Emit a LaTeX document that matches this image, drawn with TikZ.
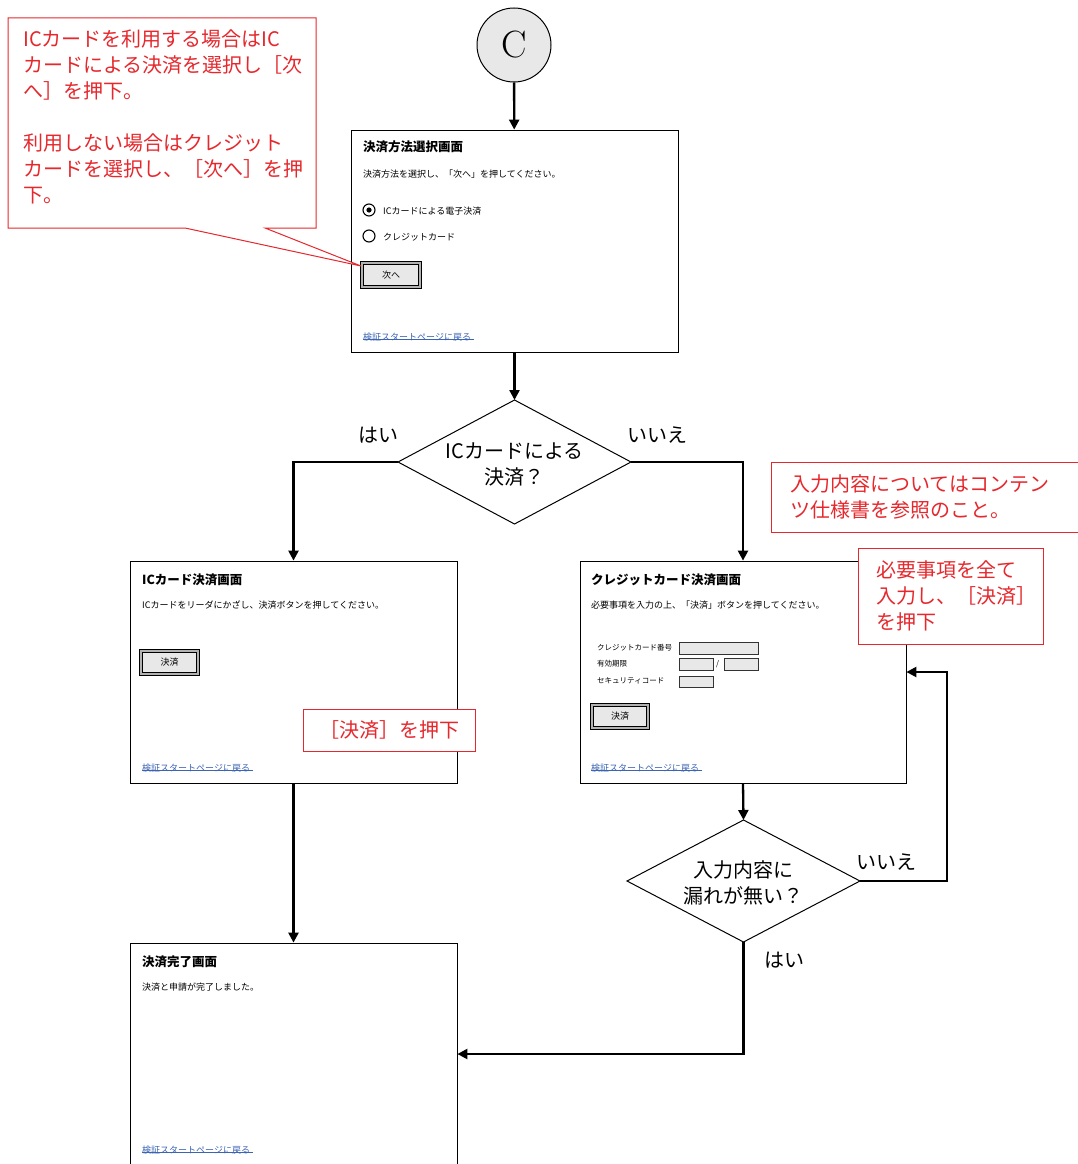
\documentclass[tikz,border=0pt]{standalone}
\usepackage{fontspec}
\setmainfont{Noto Sans CJK JP}
\newfontfamily\lmr{Latin Modern Roman}
\usetikzlibrary{arrows.meta}
\definecolor{nred}{RGB}{230,40,45}
\definecolor{lnkblue}{RGB}{60,100,180}
\definecolor{btngray}{RGB}{232,232,232}
\newcommand\scrtitle{\fontsize{12.5}{14}\selectfont\bfseries}
\newcommand\scrtext{\fontsize{9}{11}\selectfont}
\newcommand\bigtext{\fontsize{20}{26}\selectfont}
\begin{document}
\begin{tikzpicture}[x=1pt,y=-1pt,
  screen/.style={draw, line width=0.8pt, fill=white, inner sep=0pt},
  flow/.style={line width=2.3pt, -{Triangle[length=10pt,width=10pt]}},
  redbox/.style={draw=nred, line width=1pt, fill=white, inner sep=0pt},
  redtext/.style={text=nred, font=\bigtext, align=left, inner sep=0pt},
  plain/.style={font=\bigtext, inner sep=0pt},
  dectext/.style={font=\bigtext, align=center, inner sep=0pt},
  decline/.style={draw, line width=1pt, fill=white, line join=miter},
  stitle/.style={anchor=west, inner sep=0pt, font=\scrtitle},
  stext/.style={anchor=west, inner sep=0pt, font=\scrtext},
  slink/.style={anchor=west, inner sep=0pt, font=\scrtext, text=lnkblue},
  btn/.style={draw=black, line width=0.7pt, double=gray!60, double distance=2.4pt,
    fill=btngray, inner sep=0pt, font=\scrtext},
  field/.style={draw=black!80, line width=0.7pt, fill=btngray, inner sep=0pt},
  radio/.style={circle, draw, line width=1.1pt, minimum size=12pt, inner sep=0pt},
]
\useasboundingbox (0,0) rectangle (1078,1164);

% start connector
\node[circle, draw, line width=1pt, fill=black!9, minimum size=74pt, inner sep=0pt,
  font=\lmr\fontsize{38}{40}\selectfont] (C) at (514,45) {C};

% ---- screen 1: payment method selection
\node[screen, minimum width=327pt, minimum height=222pt] (s1) at (514.5,241) {};
\node[stitle] (s1t) at (363,147) {決済方法選択画面};
\node[stext] (s1b) at (363,174) {決済方法を選択し、「次へ」を押してください。};
\node[radio] (r1) at (369,210) {};
\fill (r1.center) circle (2.6pt);
\node[stext] (r1t) at (383,211) {ICカードによる電子決済};
\node[radio] (r2) at (369,236) {};
\node[stext] (r2t) at (383,237) {クレジットカード};
\node[btn, minimum width=58pt, minimum height=24pt] (b1) at (391,275) {次へ};
\node[slink] (l1) at (363,337) {検証スタートページに戻る};
\draw[lnkblue, line width=1.5pt] ([yshift=2pt]l1.south west) -- ([yshift=2pt,xshift=3pt]l1.south east);

% ---- decision 1 (diamond drawn from its four corners)
\coordinate (d1n) at (514.5,400);
\coordinate (d1e) at (631,462);
\coordinate (d1s) at (514.5,524);
\coordinate (d1w) at (398,462);
\draw[decline] (d1n) -- (d1e) -- (d1s) -- (d1w) -- cycle;
\node[dectext] (d1) at (514.5,465) {ICカードによる\\決済？};
\node[plain] (yes1) at (378,435) {はい};
\node[plain] (no1) at (657,435) {いいえ};

% ---- screen 2: IC card payment
\node[screen, minimum width=327pt, minimum height=222pt] (s2) at (293.5,672) {};
\node[stitle] (s2t) at (142,580) {ICカード決済画面};
\node[stext] (s2b) at (142,605) {ICカードをリーダにかざし、決済ボタンを押してください。};
\node[btn, minimum width=57pt, minimum height=23pt] (b2) at (169.5,662.5) {決済};
\node[slink] (l2) at (142,768) {検証スタートページに戻る};
\draw[lnkblue, line width=1.5pt] ([yshift=2pt]l2.south west) -- ([yshift=2pt,xshift=3pt]l2.south east);

% ---- screen 3: credit card payment
\node[screen, minimum width=326pt, minimum height=222pt] (s3) at (743,672) {};
\node[stitle] (s3t) at (591,580) {クレジットカード決済画面};
\node[stext] (s3b) at (591,605) {必要事項を入力の上、「決済」ボタンを押してください。};
\node[stext, font=\fontsize{7.5}{9}\selectfont] (f1l) at (597,648) {クレジットカード番号};
\node[stext, font=\fontsize{7.5}{9}\selectfont] (f2l) at (597,664) {有効期限};
\node[stext, font=\fontsize{7.5}{9}\selectfont] (f3l) at (597,681) {セキュリティコード};
\node[field, minimum width=79pt, minimum height=12pt, anchor=west] (f1) at (679,648) {};
\node[field, minimum width=34pt, minimum height=12pt, anchor=west] (f2a) at (679,664) {};
\node[stext, font=\fontsize{7.5}{9}\selectfont] (sl) at (716,664) {/};
\node[field, minimum width=34pt, minimum height=12pt, anchor=west] (f2b) at (724,664) {};
\node[field, minimum width=34pt, minimum height=11pt, anchor=west] (f3) at (679,681.5) {};
\node[btn, minimum width=56pt, minimum height=23pt] (b3) at (620,716.5) {決済};
\node[slink] (l3) at (591,768) {検証スタートページに戻る};
\draw[lnkblue, line width=1.5pt] ([yshift=2pt]l3.south west) -- ([yshift=2pt,xshift=3pt]l3.south east);

% ---- decision 2
\coordinate (d2n) at (743.5,820);
\coordinate (d2e) at (860,881);
\coordinate (d2s) at (743.5,942);
\coordinate (d2w) at (627,881);
\draw[decline] (d2n) -- (d2e) -- (d2s) -- (d2w) -- cycle;
\node[dectext] (d2) at (743.5,883) {入力内容に\\漏れが無い？};
\node[plain] (no2) at (886,862) {いいえ};
\node[plain] (yes2) at (784,960) {はい};

% ---- screen 4: completion
\node[screen, minimum width=327pt, minimum height=222pt] (s4) at (293.5,1054) {};
\node[stitle] (s4t) at (142,962) {決済完了画面};
\node[stext] (s4b) at (142,987) {決済と申請が完了しました。};
\node[slink] (l4) at (142,1150) {検証スタートページに戻る};
\draw[lnkblue, line width=1.5pt] ([yshift=2pt]l4.south west) -- ([yshift=2pt,xshift=3pt]l4.south east);

% ---- flow connectors
\coordinate (loop) at (947,672);
\draw[flow] (C) -- (s1);
\draw[flow] (s1) -- (d1n);
\draw[flow] (d1w) -| (s2.north);
\draw[flow] (d1e) -| (s3.north);
\draw[flow] (s2.south) -- (s4.north);
\draw[flow] (s3.south) -- (d2n);
\draw[flow] (d2e) -| (loop) -- (s3.east);
\draw[flow] (d2s) |- (s4.east);

% ---- annotations
\draw[redbox] (8,18) -- (316,18) -- (316,228) -- (265,228) -- (361,266)
  -- (185,228) -- (8,228) -- cycle;
\node[redtext, anchor=north west] (n1) at (23,30)
  {ICカードを利用する場合はIC\\カードによる決済を選択し［次\\へ］を押下。\\[26pt]利用しない場合はクレジット\\カードを選択し、［次へ］を押\\下。};

\node[redbox, minimum width=172pt, minimum height=42pt] (n2box) at (389,730) {};
\node[redtext] (n2) at (n2box.center) {［決済］を押下};

\node[redbox, minimum width=310pt, minimum height=70pt, anchor=north west] (n3box) at (771,462) {};
\node[redtext, anchor=north west] (n3) at (790,474) {入力内容についてはコンテン\\ツ仕様書を参照のこと。};

\node[redbox, minimum width=185pt, minimum height=96pt, anchor=north west] (n4box) at (858,548) {};
\node[redtext, anchor=north west] (n4) at (876,560) {必要事項を全て\\入力し、［決済］\\を押下};
\end{tikzpicture}
\end{document}
